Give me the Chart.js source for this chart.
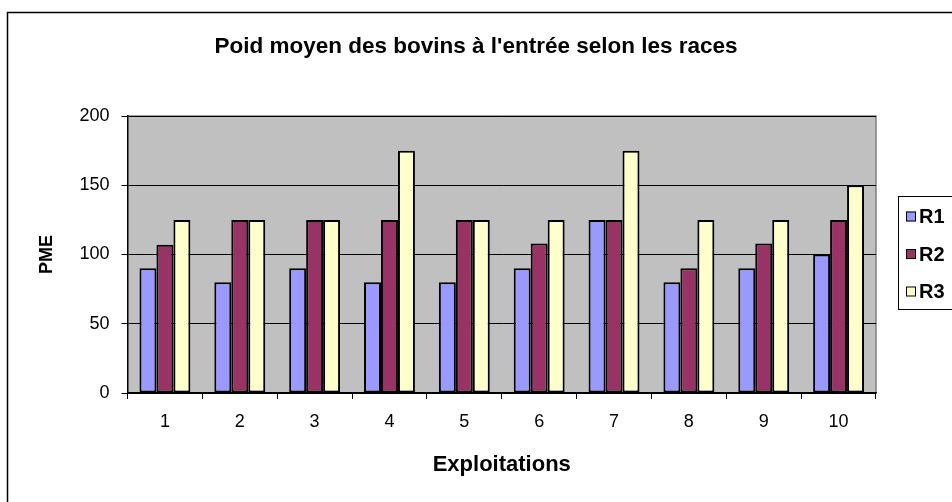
<!DOCTYPE html>
<html>
<head>
<meta charset="utf-8">
<script src="https://cdn.jsdelivr.net/npm/chart.js@4.4.0/dist/chart.umd.min.js"></script>
<style>
  html, body { margin: 0; padding: 0; background: #fff; }
  #wrap { width: 952px; height: 502px; }
</style>
</head>
<body>
<div id="wrap"><canvas id="chart" width="952" height="502"></canvas></div>
<script>
// Data
const exploitations = ['1', '2', '3', '4', '5', '6', '7', '8', '9', '10'];
const r1 = [90, 80, 90, 80, 80, 90, 125, 80, 90, 100];
const r2 = [107, 125, 125, 125, 125, 108, 125, 90, 108, 125];
const r3 = [125, 125, 125, 175, 125, 125, 175, 125, 125, 150];
const yTicks = [0, 50, 100, 150, 200];
const chartTitle = "Poid moyen des bovins à l'entrée selon les races";

const FONT = 'Arial, "Liberation Sans", sans-serif';

// grey plot area + outer frame + title + legend box (Excel look)
const excelLook = {
    id: 'excelLook',
    beforeDraw(chart) {
        const ctx = chart.ctx;
        const a = chart.chartArea;
        ctx.save();
        ctx.fillStyle = '#fff';
        ctx.fillRect(0, 0, chart.width, chart.height);
        ctx.strokeStyle = '#000';
        ctx.lineWidth = 1.5;
        ctx.strokeRect(7.5, 12.5, chart.width + 20, chart.height + 20);
        ctx.fillStyle = '#c0c0c0';
        ctx.fillRect(a.left, a.top, a.right - a.left, a.bottom - a.top);
        ctx.strokeStyle = '#808080';
        ctx.lineWidth = 1.5;
        ctx.beginPath();
        ctx.moveTo(a.left, a.top);
        ctx.lineTo(a.right, a.top);
        ctx.lineTo(a.right, a.bottom);
        ctx.stroke();
        ctx.restore();
    },
    afterDraw(chart) {
        const ctx = chart.ctx;
        ctx.save();
        // title, centred on the whole frame
        ctx.fillStyle = '#000';
        ctx.font = 'bold 22.5px ' + FONT;
        ctx.textAlign = 'center';
        ctx.textBaseline = 'middle';
        ctx.fillText(chartTitle, 476, 47);

        // legend
        ctx.textAlign = 'left';
        const x0 = 898.5, y0 = 196.5;
        ctx.fillStyle = '#fff';
        ctx.fillRect(x0, y0, 70, 113);
        ctx.strokeStyle = '#000';
        ctx.lineWidth = 1;
        ctx.strokeRect(x0, y0, 70, 113);
        ctx.font = 'bold 20px ' + FONT;
        chart.data.datasets.forEach((ds, i) => {
            const cy = 216.5 + i * 37.5;
            ctx.fillStyle = ds.backgroundColor;
            ctx.fillRect(906, cy - 5, 10, 10);
            ctx.strokeStyle = '#000';
            ctx.lineWidth = 1;
            ctx.strokeRect(906.5, cy - 4.5, 9, 9);
            ctx.fillStyle = '#000';
            ctx.fillText(ds.label, 919, cy + 1);
        });
        ctx.restore();
    }
};

const barStyle = { borderColor: '#000', borderWidth: 2, borderSkipped: false };

new Chart(document.getElementById('chart'), {
    type: 'bar',
    data: {
        labels: exploitations,
        datasets: [
            { label: 'R1', data: r1, backgroundColor: '#9999ff', ...barStyle },
            { label: 'R2', data: r2, backgroundColor: '#993366', ...barStyle },
            { label: 'R3', data: r3, backgroundColor: '#ffffcc', ...barStyle }
        ]
    },
    options: {
        responsive: false,
        animation: false,
        devicePixelRatio: 1,
        layout: { padding: { left: 32, right: 76, top: 116, bottom: 20 } },
        datasets: { bar: { categoryPercentage: 0.68, barPercentage: 1 } },
        plugins: {
            legend: { display: false },
            tooltip: { enabled: false },
            title: { display: false }
        },
        scales: {
            x: {
                afterFit(scale) { scale.height = 89; },
                grid: { display: true, drawOnChartArea: false, color: '#000', tickLength: 6, offset: true },
                border: { color: '#000', width: 1.5 },
                ticks: { color: '#000', font: { family: FONT, size: 18 }, padding: 12 },
                title: {
                    display: true,
                    text: 'Exploitations',
                    color: '#000',
                    font: { family: FONT, size: 22, weight: 'bold' },
                    padding: { top: 4, bottom: 4 }
                }
            },
            y: {
                min: 0,
                max: 200,
                afterBuildTicks(scale) { scale.ticks = yTicks.map(v => ({ value: v })); },
                afterFit(scale) { scale.width = 95.5; },
                grid: { color: '#000', lineWidth: 1, tickLength: 6 },
                border: { color: '#000', width: 1.5 },
                ticks: { color: '#000', font: { family: FONT, size: 18 }, padding: 12 },
                title: {
                    display: true,
                    text: 'PME',
                    color: '#000',
                    font: { family: FONT, size: 18, weight: 'bold' },
                    padding: { top: 4, bottom: 4 }
                }
            }
        }
    },
    plugins: [excelLook]
});
</script>
</body>
</html>
